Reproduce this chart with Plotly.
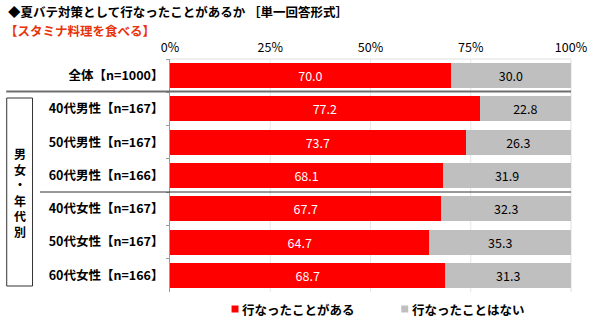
import plotly.graph_objects as go

categories = ["全体【n=1000】", "40代男性【n=167】", "50代男性【n=167】", "60代男性【n=166】",
              "40代女性【n=167】", "50代女性【n=167】", "60代女性【n=166】"]
done = [70.0, 77.2, 73.7, 68.1, 67.7, 64.7, 68.7]
not_done = [30.0, 22.8, 26.3, 31.9, 32.3, 35.3, 31.3]
series_names = ["行なったことがある", "行なったことはない"]
series_colors = ["#FF0000", "#BFBFBF"]
tick_vals = [0, 25, 50, 75, 100]
tick_text = ["0%", "25%", "50%", "75%", "100%"]

FONT = "Noto Sans CJK JP"
W, H = 600, 323
L, R, T, B = 170, 26, 59, 31
pw = W - L - R
ph = H - T - B

def px2paper_x(px):
    return (px - L) / pw

def py2paper_y(py):
    return 1 - (py - T) / ph

fig = go.Figure()
fig.add_trace(go.Bar(
    y=categories, x=done, orientation="h", name=series_names[0],
    marker=dict(color=series_colors[0], line=dict(width=0)),
    text=[f"{v:.1f}" for v in done], textposition="inside", insidetextanchor="middle",
    textfont=dict(color="white", size=12.5, family=FONT), width=0.75,
))
fig.add_trace(go.Bar(
    y=categories, x=not_done, orientation="h", name=series_names[1],
    marker=dict(color=series_colors[1], line=dict(width=0)),
    text=[f"{v:.1f}" for v in not_done], textposition="inside", insidetextanchor="middle",
    textfont=dict(color="black", size=12.5, family=FONT), width=0.75,
))

shapes = []
shapes.append(dict(type="line", xref="paper", yref="paper",
                   x0=px2paper_x(5), x1=1.0, y0=py2paper_y(91.5), y1=py2paper_y(91.5),
                   line=dict(color="#6E6E6E", width=2)))
shapes.append(dict(type="line", xref="paper", yref="paper",
                   x0=px2paper_x(39), x1=1.0, y0=py2paper_y(192), y1=py2paper_y(192),
                   line=dict(color="#333333", width=1)))
shapes.append(dict(type="rect", xref="paper", yref="paper",
                   x0=px2paper_x(5.5), x1=px2paper_x(31.5), y0=py2paper_y(98), y1=py2paper_y(286),
                   line=dict(color="#333333", width=1), fillcolor="white"))
for v in [25, 50, 75]:
    shapes.append(dict(type="line", xref="x", yref="paper", x0=v, x1=v, y0=0, y1=1,
                       line=dict(color="#E6E6E6", width=1), layer="below"))
shapes.append(dict(type="line", xref="paper", yref="paper", x0=1, x1=1, y0=0, y1=1,
                   line=dict(color="#E0E0E0", width=1), layer="below"))
shapes.append(dict(type="line", xref="paper", yref="paper", x0=0, x1=1, y0=1, y1=1,
                   line=dict(color="#E0E0E0", width=1), layer="below"))

annotations = [
    dict(text="<b>◆夏バテ対策として行なったことがあるか ［単一回答形式］</b>", xref="paper", yref="paper",
         x=px2paper_x(5), y=py2paper_y(12), xanchor="left", yanchor="middle", showarrow=False,
         font=dict(size=12.5, color="black", family=FONT)),
    dict(text="<b>【スタミナ料理を食べる】</b>", xref="paper", yref="paper",
         x=px2paper_x(2), y=py2paper_y(30.5), xanchor="left", yanchor="middle", showarrow=False,
         font=dict(size=12.5, color="#E8340C", family=FONT)),
    dict(text="<b>男<br>女<br>・<br>年<br>代<br>別</b>", xref="paper", yref="paper",
         x=px2paper_x(18.5), y=py2paper_y(192), xanchor="center", yanchor="middle", showarrow=False,
         font=dict(size=12, color="black", family=FONT), align="center"),
]

legend_x = [232, 403]
for name, col, lx in zip(series_names, series_colors, legend_x):
    shapes.append(dict(type="rect", xref="paper", yref="paper",
                       x0=px2paper_x(lx), x1=px2paper_x(lx + 7),
                       y0=py2paper_y(305.5), y1=py2paper_y(312.5),
                       fillcolor=col, line=dict(width=0)))
    annotations.append(dict(text=f"<b>{name}</b>", xref="paper", yref="paper",
                            x=px2paper_x(lx + 9), y=py2paper_y(309), xanchor="left", yanchor="middle",
                            showarrow=False, font=dict(size=12.5, color="black", family=FONT)))

fig.update_layout(
    width=W, height=H, margin=dict(l=L, r=R, t=T, b=B),
    paper_bgcolor="white", plot_bgcolor="white",
    barmode="stack", bargap=0.25, showlegend=False,
    font=dict(family=FONT, size=12, color="black"),
    xaxis=dict(range=[0, 100], tickvals=tick_vals, ticktext=tick_text, side="top",
               showgrid=False, zeroline=False, showline=False, ticks="",
               tickfont=dict(size=12.5, family=FONT, color="black"), ticklabelstandoff=4, fixedrange=True),
    yaxis=dict(autorange="reversed", showline=True, linecolor="#9A9A9A", linewidth=1,
               ticks="outside", tickson="boundaries", ticklen=3, tickcolor="#9A9A9A", tickwidth=1,
               tickfont=dict(size=12.5, family=FONT, color="black", weight="bold"),
               ticklabelstandoff=3, showgrid=False),
    shapes=shapes, annotations=annotations,
    uniformtext=dict(minsize=8, mode="show"),
)
fig.write_html("out.html")
